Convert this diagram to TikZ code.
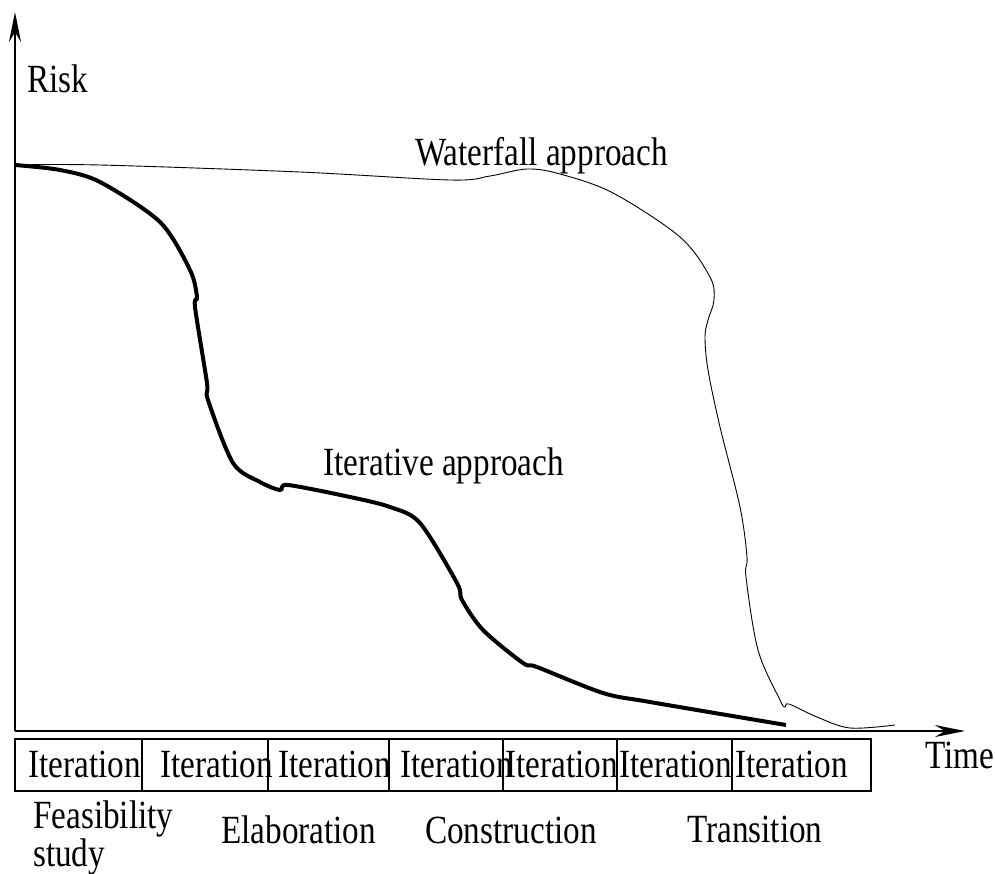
\documentclass[tikz,border=0pt]{standalone}
\usepackage{fontspec}
\setmainfont{Liberation Serif}[FakeStretch=0.83]
\usetikzlibrary{arrows.meta}
\tikzstyle{label} = [anchor=base west, inner sep=0pt, font=\fontsize{40}{44}\selectfont]
\tikzset{axis/.style={line width=1.4pt, -{Stealth[length=30pt,width=12pt]}},
    waterfall/.style={line width=0.9pt},
    iterative/.style={line width=4pt}}

\begin{document}
\begin{tikzpicture}[x=1pt,y=-1pt]
    \useasboundingbox (0,0) rectangle (995,873);
    % Axes
    \coordinate (origin) at (15,731);
    \coordinate (risktip) at (15,12);
    \coordinate (timetip) at (965,731);
    \draw[axis] (origin) -- (risktip);
    \draw[axis] (origin) -- (timetip);
    \node[label] (risk) at (27,92) {Risk};
    \node[label] (time) at (925,768) {Time};
    %
    % The two risk curves
    \draw[waterfall] plot[smooth, tension=0.55] coordinates {(15,165) (100,165) (300,172)
        (450,180) (490,176) (527,169) (560,174) (613,193) (680,237) (710,277) (714,300)
        (708,320) (705,337) (708,370) (720,427) (740,507) (747,557) (746,577) (758,650)
        (780,700) (785,707) (789,704) (817,717) (850,728) (895,725)};
    \draw[iterative] plot[smooth, tension=0.5] coordinates {(15,165) (60,170) (100,182)
        (160,222) (190,270) (197,297) (195,307) (207,383) (208,400) (233,463) (260,482)
        (280,490) (288,485) (350,497) (390,507) (420,523) (457,583) (462,600) (483,630)
        (523,663) (537,667) (603,693) (650,702) (786,725)};
    \node[label] (waterfalltext) at (415,165) {Waterfall approach};
    \node[label] (iterativetext) at (323,475) {Iterative approach};
    %
    % Iterations
    \draw[line width=1.2pt] (15,739) rectangle (871,791);
    \foreach \x in {142,268,389,503,617,732}
        \draw[line width=1.1pt] (\x,739) -- (\x,791);
    \foreach \x [count=\i] in {28,160,278,400,505,619,735}
        \node[label] (it\i) at (\x,777) {Iteration};
    %
    % Phases
    \node[label] (feasibility) at (33,828) {Feasibility};
    \node[label] (study) at (33,866) {study};
    \node[label] (elaboration) at (221,843) {Elaboration};
    \node[label] (construction) at (425,843) {Construction};
    \node[label] (transition) at (687,842) {Transition};
\end{tikzpicture}
\end{document}
